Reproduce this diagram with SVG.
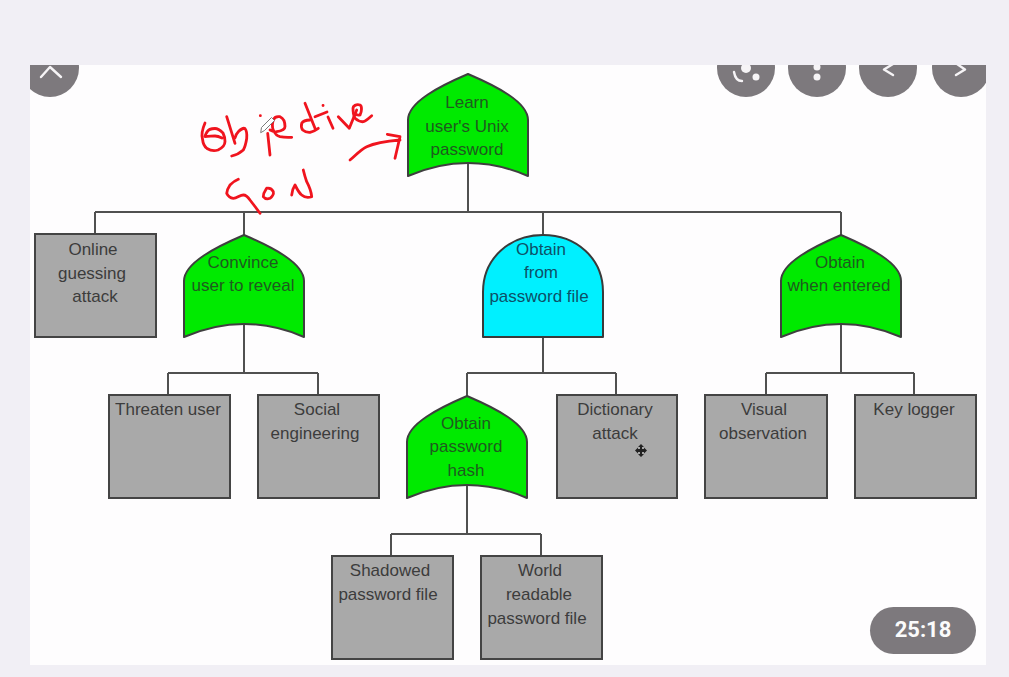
<svg xmlns="http://www.w3.org/2000/svg" width="1009" height="677" viewBox="0 0 1009 677">
<style>
.or{fill:#00ea00;stroke:#3f3f3f;stroke-width:2;stroke-linejoin:round}
.and{fill:#00f0ff;stroke:#3a3a3a;stroke-width:2;stroke-linejoin:round}
.leaf{fill:#a9a9a9;stroke:#444;stroke-width:2}
.t{font-family:"Liberation Sans",Arial,sans-serif;font-size:17px;text-anchor:middle}
.on{fill:#1f5a1f}
.oc{fill:#0d5068}
.og{fill:#3c3c3c}
.conn{fill:none;stroke:#505050;stroke-width:2}
.ink{fill:none;stroke:#f0141e;stroke-width:2.800;stroke-linecap:round;stroke-linejoin:round}
.btn{fill:#7d797d}
.gl{fill:none;stroke:#f6f4f6;stroke-width:2.400;stroke-linecap:round;stroke-linejoin:round}
.dot{fill:#f6f4f6}
</style>
<defs>
<path id="orgate" d="M-60,102V46C-60,28-28,12 0,0C28,12 60,28 60,46V102Q0,76-60,102Z"/>
<clipPath id="panel"><rect x="30" y="65" width="956" height="600"/></clipPath>
</defs>
<rect width="1009" height="677" fill="#f1eff5"/>
<rect x="30" y="65" width="956" height="600" fill="#fefdfe"/>

<g id="connectors" class="conn">
<path d="M468,163V212M95,212H841M95,212V234M244,212V235M543,212V235M841,212V235"/>
<path d="M244,324V373M168,373H318M168,373V395M318,373V395"/>
<path d="M543,337V373M467,373H616M467,373V396M616,373V395"/>
<path d="M841,324V373M766,373H914M766,373V395M914,373V395"/>
<path d="M467,485V534M391,534H541M391,534V556M541,534V556"/>
</g>

<g id="node-learn"><use href="#orgate" class="or" x="468" y="74"/>
<text class="t on" y="108"><tspan x="467">Learn</tspan><tspan x="467" y="131.500">user's Unix</tspan><tspan x="467" y="155">password</tspan></text></g>
<g id="node-online"><rect class="leaf" x="35" y="234" width="121" height="103"/>
<text class="t og" y="255"><tspan x="93">Online</tspan><tspan x="92" y="279">guessing</tspan><tspan x="95" y="302">attack</tspan></text></g>
<g id="node-convince"><use href="#orgate" class="or" x="244" y="235"/>
<text class="t on" y="268"><tspan x="243">Convince</tspan><tspan x="243" y="291">user to reveal</tspan></text></g>
<g id="node-file"><path class="and" d="M483,337V292C483,258 510,235 543,235C576,235 603,258 603,292V337Z"/>
<text class="t oc" y="255"><tspan x="541">Obtain</tspan><tspan x="541" y="278">from</tspan><tspan x="539" y="302">password file</tspan></text></g>
<g id="node-entered"><use href="#orgate" class="or" x="841" y="235"/>
<text class="t on" y="268"><tspan x="840">Obtain</tspan><tspan x="839" y="291">when entered</tspan></text></g>
<g id="node-threaten"><rect class="leaf" x="109" y="395" width="121" height="103"/>
<text class="t og" x="168" y="415">Threaten user</text></g>
<g id="node-social"><rect class="leaf" x="258" y="395" width="121" height="103"/>
<text class="t og" y="415"><tspan x="317">Social</tspan><tspan x="315" y="439">engineering</tspan></text></g>
<g id="node-hash"><use href="#orgate" class="or" x="467" y="396"/>
<text class="t on" y="429"><tspan x="466">Obtain</tspan><tspan x="466" y="452">password</tspan><tspan x="466" y="476">hash</tspan></text></g>
<g id="node-dictionary"><rect class="leaf" x="557" y="395" width="120" height="103"/>
<text class="t og" y="415"><tspan x="615">Dictionary</tspan><tspan x="615" y="439">attack</tspan></text></g>
<g id="node-visual"><rect class="leaf" x="705" y="395" width="122" height="103"/>
<text class="t og" y="415"><tspan x="764">Visual</tspan><tspan x="763" y="439">observation</tspan></text></g>
<g id="node-keylogger"><rect class="leaf" x="855" y="395" width="121" height="103"/>
<text class="t og" x="914" y="415">Key logger</text></g>
<g id="node-shadowed"><rect class="leaf" x="332" y="556" width="121" height="103"/>
<text class="t og" y="576"><tspan x="390">Shadowed</tspan><tspan x="388" y="600">password file</tspan></text></g>
<g id="node-world"><rect class="leaf" x="481" y="556" width="121" height="103"/>
<text class="t og" y="576"><tspan x="540">World</tspan><tspan x="539" y="600">readable</tspan><tspan x="537" y="624">password file</tspan></text></g>

<g id="handwriting" class="ink">
<path d="M205,123C202,130 201,134 202.500,139C203,144 205,147 207,148.500C211,151 215,151 218,150C222,148 225,145 225,141.500C225,137 224,135 223,133C220,130 218,128.500 215,128.500C211,128.500 208,130 207,132C206,134 205,135 205,136.500C209,136.500 212,136 215,136C218,136 220,137 222,138"/>
<path d="M226.700,116.700L235,143.300M235,138C236,134 238,132 238.500,131.500C241,129 244,128 245,128.500C247,131 247,135 246.700,138.500C246,143 245,147 243.300,150C240,153 236,155 231.700,156"/>
<path d="M260.300,115.700h0.100M267.700,133.300L270,155"/>
<path d="M270,130C272,131 275,132 276.700,131.700C281,131 285,129 285,126.500C285,122 283,118 280,116.700C276,116 274,118 273.300,120C272,124 272,127 273.300,130C275,134 277,136 280,136.700C284,137.500 288,137.500 291.700,137.300"/>
<path d="M310,120C306,120 303,121 301.700,123.300C301,126 301,128 302.700,130C305,132 307,132.500 310,132.300C313,131.500 316,130 318.300,128.300"/>
<path d="M305,103.300L315,128.300M315,116.700L327,112M323,105.500h0.100M328,117L333,128.300"/>
<path d="M338.300,116.700L349.300,128.300L356.700,110"/>
<path d="M353.300,113.300C356,115 358,115.500 360,115C362,111 362,106 360,105C356,104 353,106 353,108C353,112 353,115 355,118.300C358,121 360,122 363.300,121.700C366,121 369,118 371.700,115.700"/>
<path d="M350,160C355,156 360,150 366.700,146.700C377,142 388,141 400,140M387.300,134.300L400,136.700L395,158.300"/>
<path d="M238.300,179.300C234,181 232,183 230,185C228,188 227,190 226.700,193.300C228,196 230,198 233.300,198.300C237,198.300 240,195 243.300,195C246,195 248,197 250,200C253,204 257,209 260,213.300"/>
<path d="M266.700,188.300C265,191 263,193 263.300,196.700C265,199 268,199 270,198.300C272,197 274,194 273.300,191.700C272,189 269,188 266.700,188.300"/>
<path d="M291.700,195C292,191 293,188 295,185C297,189 299,193 301.700,195C304,197 308,198 311.700,196.700C311,190 309,186 306.700,181.700C305,177 304,173 303.300,170"/>
</g>
<g id="pencil"><path d="M260.700,132.700L261.500,127.500L271.500,117.500L274.500,120.500L264.500,130.500Z" fill="#fff" stroke="#7a7a7a" stroke-width="1"/></g>
<g id="move-cursor" fill="#222"><path d="M641,444L644,447H642V449H644V447.500L647,450.500L644,453.500V452H642V454H644L641,457L638,454H640V452H638V453.500L635,450.500L638,447.500V449H640V447H638Z"/></g>

<g id="overlay-buttons" clip-path="url(#panel)">
<circle class="btn" cx="50" cy="68" r="29"/>
<circle class="btn" cx="746" cy="68" r="29"/>
<circle class="btn" cx="817" cy="68" r="29"/>
<circle class="btn" cx="888" cy="68" r="29"/>
<circle class="btn" cx="961" cy="68" r="29"/>
<path class="gl" d="M41,77L50,67L61,77"/>
<circle class="dot" cx="746" cy="68" r="5"/><circle class="dot" cx="756" cy="77" r="3.500"/>
<path class="gl" d="M734,72C735,78 738,81 742,81"/>
<circle class="dot" cx="817" cy="67" r="3.500"/><circle class="dot" cx="817" cy="77" r="3.500"/>
<path class="gl" d="M893,64L884,69.500L893,75"/>
<path class="gl" d="M957,64L965,69.500L956,75"/>
</g>
<g id="timer"><rect x="870" y="607" width="106" height="47" rx="23.500" fill="#7d797d"/>
<text x="923" y="637" font-family="Roboto,sans-serif" font-weight="700" font-size="22px" fill="#fbfbfb" text-anchor="middle">25:18</text></g>
</svg>
